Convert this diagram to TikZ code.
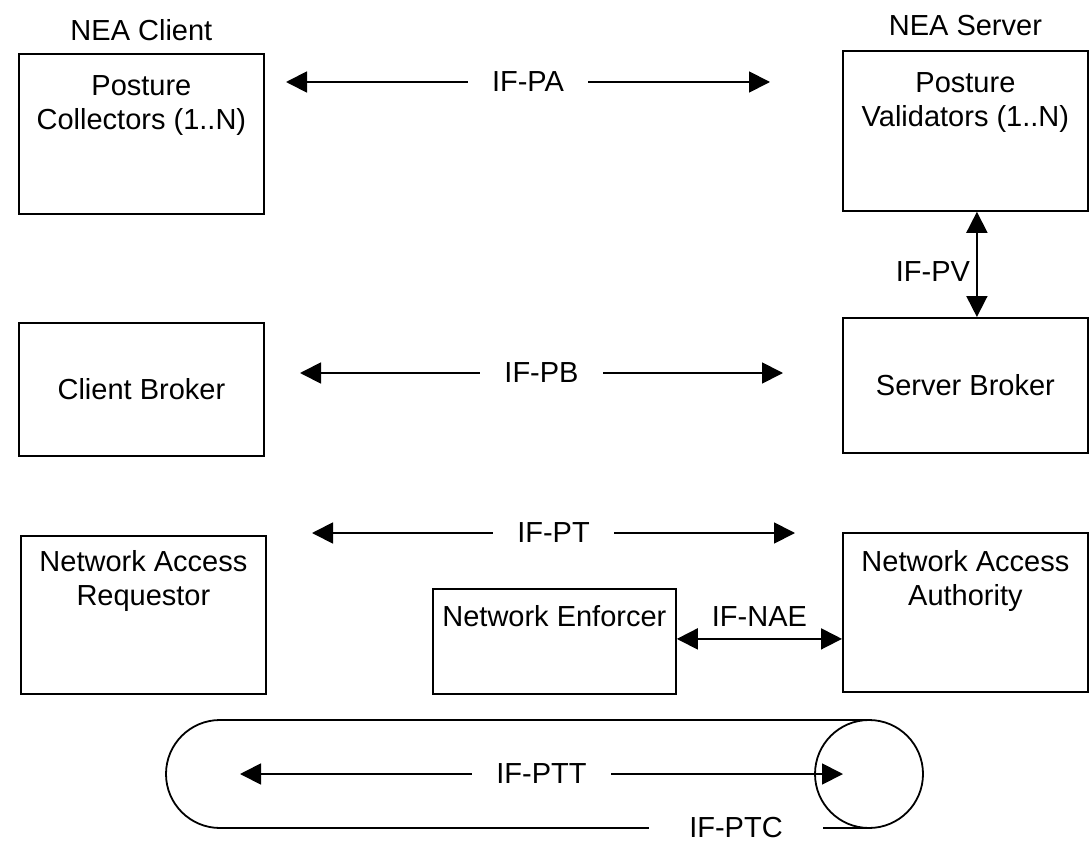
\documentclass[tikz,border=0pt]{standalone}
\usepackage{fontspec}
\setmainfont{Liberation Sans}
\usetikzlibrary{arrows.meta,positioning}
\tikzset{
  blk/.style={draw,line width=1.8pt,inner sep=0pt,minimum width=245pt,anchor=north west},
  txt/.style={align=center,inner sep=0pt},
  lbl/.style={fill=white,inner xsep=24pt,inner ysep=2pt},
  tip/.style={{Triangle[length=21pt,width=21pt]}-{Triangle[length=21pt,width=21pt]}},
}
\begin{document}
\begin{tikzpicture}[x=1pt,y=-1pt,line width=1.8pt,font=\fontsize{29}{34}\selectfont]
\useasboundingbox (0,0) rectangle (1091,842);
% client side
\node[blk,minimum height=160pt] (pc) at (18,53) {};
\node[blk,minimum height=133pt] (cb) at (18,322) {};
\node[blk,minimum height=158pt] (nar) at (20,535) {};
\node[txt,above=11pt of pc.north] {NEA Client};
\node[txt,below=22pt of pc.north] {Posture\\Collectors (1..N)};
\node[txt] at (cb.center) {Client Broker};
\node[txt,below=15pt of nar.north] {Network Access\\Requestor};
% server side
\node[blk,minimum height=160pt] (pv) at (842,50) {};
\node[blk,minimum height=135pt] (sb) at (842,317) {};
\node[blk,minimum height=159pt] (naa) at (842,532) {};
\node[blk,minimum width=243pt,minimum height=105pt] (ne) at (432,588) {};
\node[txt,above=13pt of pv.north] {NEA Server};
\node[txt,below=22pt of pv.north] {Posture\\Validators (1..N)};
\node[txt] at (sb.center) {Server Broker};
\node[txt,below=18pt of naa.north] {Network Access\\Authority};
\node[txt,below=17pt of ne.north] {Network Enforcer};
% interfaces
\coordinate (paL) at (286,82);   \coordinate (paR) at (770,82);
\coordinate (pbL) at (300,373);  \coordinate (pbR) at (783,373);
\coordinate (ptL) at (312,533);  \coordinate (ptR) at (795,533);
\coordinate (pttL) at (240,774); \coordinate (pttR) at (843,774);
\draw[tip] (paL) -- node[lbl] {IF-PA} (paR);
\draw[tip] (pbL) -- node[lbl] {IF-PB} (pbR);
\draw[tip] (ptL) -- node[lbl] {IF-PT} (ptR);
\draw[tip] ([xshift=11.5pt]pv.south) -- node[pos=0.57,left,inner sep=6pt] {IF-PV} ([xshift=11.5pt]sb.north);
\draw[tip] ([yshift=2.5pt]ne.east) -- node[above=12pt,inner sep=0pt] {IF-NAE} ([yshift=2.5pt]ne.east -| naa.west);
% transport loop
\draw (869,720) -- (220,720) arc[start angle=90,end angle=270,radius=54pt] -- (869,828);
\draw (869,774) circle (54pt);
\node[lbl,inner xsep=40pt] (ptc) at (736,828) {IF-PTC};
\draw[tip] (pttL) -- node[lbl] {IF-PTT} (pttR);
\end{tikzpicture}
\end{document}
